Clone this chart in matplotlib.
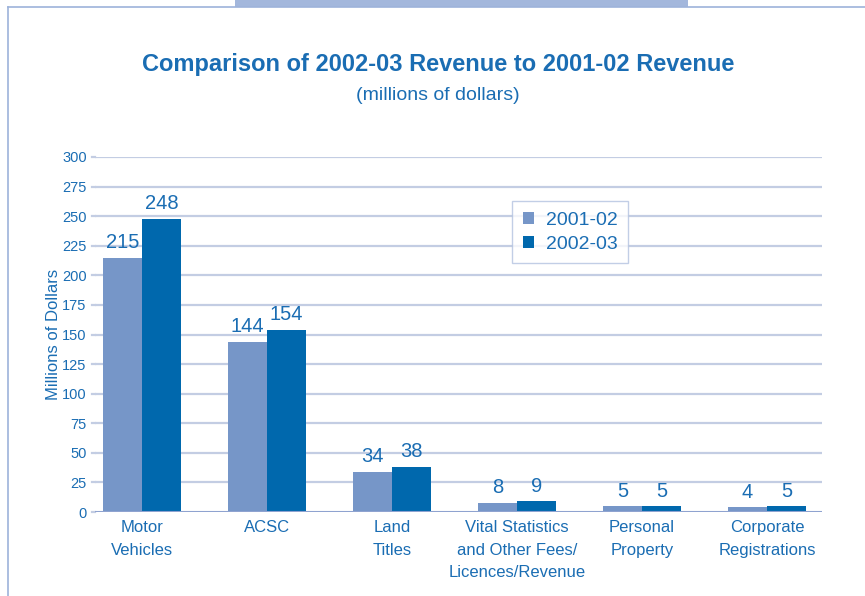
import matplotlib.pyplot as plt
import numpy as np
from matplotlib.patches import Rectangle
from matplotlib.lines import Line2D

plt.rcParams['font.family'] = ['Liberation Sans Narrow', 'Liberation Sans', 'DejaVu Sans']

categories = ["Motor\nVehicles", "ACSC", "Land\nTitles",
              "Vital Statistics\nand Other Fees/\nLicences/Revenue",
              "Personal\nProperty", "Corporate\nRegistrations"]
rev_2001 = [215, 144, 34, 8, 5, 4]
rev_2002 = [248, 154, 38, 9, 5, 5]
yticks = [0, 25, 50, 75, 100, 125, 150, 175, 200, 225, 250, 275, 300]

light = '#7696c8'
dark = '#0068ad'
txt = '#1a6db3'
grid = '#c3cde3'

fig = plt.figure(figsize=(8.65, 5.96), dpi=100)

# page frame and tab across the top
fig.add_artist(Line2D([8 / 865, 8 / 865], [0, 1 - 7 / 596], color='#9db3da', lw=1.2))
fig.add_artist(Line2D([8 / 865, 1], [1 - 7 / 596, 1 - 7 / 596], color='#9db3da', lw=1.2))
fig.add_artist(Rectangle((235 / 865, 1 - 7 / 596), 453 / 865, 7 / 596,
                         color='#a3b7dc', lw=0))

fig.text(438 / 865, 1 - 64 / 596, "Comparison of 2002-03 Revenue to 2001-02 Revenue",
         ha='center', va='center', fontsize=17, fontweight='bold', color=txt)
fig.text(438 / 865, 1 - 96 / 596, "(millions of dollars)", ha='center', va='center',
         fontsize=14, color=txt)

ax = fig.add_axes([95 / 865, 1 - 512 / 596, 727 / 865, 355 / 596])
x = np.arange(len(categories))
w = 0.31
b1 = ax.bar(x - w / 2, rev_2001, w, color=light, label='2001-02', zorder=3)
b2 = ax.bar(x + w / 2, rev_2002, w, color=dark, label='2002-03', zorder=3)

for bars, vals in ((b1, rev_2001), (b2, rev_2002)):
    for b, v in zip(bars, vals):
        ax.annotate(str(v), (b.get_x() + b.get_width() / 2, v), xytext=(0, 4),
                    textcoords='offset points', ha='center', va='bottom',
                    fontsize=14.5, color=txt)

ax.set_xlim(-0.376, 5.44)
ax.set_ylim(0, 300)
ax.set_yticks(yticks)
ax.set_yticklabels([str(t) for t in yticks], fontsize=10.5, color=txt)
ax.set_xticks(x)
ax.set_xticklabels(categories, fontsize=12, color=txt, linespacing=1.6)
ax.tick_params(axis='x', length=0, pad=6)
ax.tick_params(axis='y', length=0, pad=6)
for s in ax.spines.values():
    s.set_visible(False)
ax.axhline(0, color='#8fa3d0', lw=1.5, zorder=4)
for t in yticks[1:]:
    ax.axhline(t, color=grid, lw=1.6, zorder=1)
# short tick stubs left of the plot area
for t in yticks:
    ax.plot([-0.4, -0.376], [t, t], color=grid, lw=1.6, clip_on=False)

ax.set_ylabel("Millions of Dollars", fontsize=12, color=txt, labelpad=1)

leg = ax.legend(loc='upper left', bbox_to_anchor=(417 / 727, 1 - 44 / 355),
                borderaxespad=0, frameon=True, fancybox=False, handlelength=0.6,
                handleheight=0.6, handletextpad=0.6, borderpad=0.55,
                labelspacing=0.35, labelcolor=txt, prop={'size': 14})
leg.get_frame().set_edgecolor('#b3c2e0')
leg.get_frame().set_linewidth(1.0)
leg.set_zorder(5)

fig.savefig('out.png', dpi=100)
